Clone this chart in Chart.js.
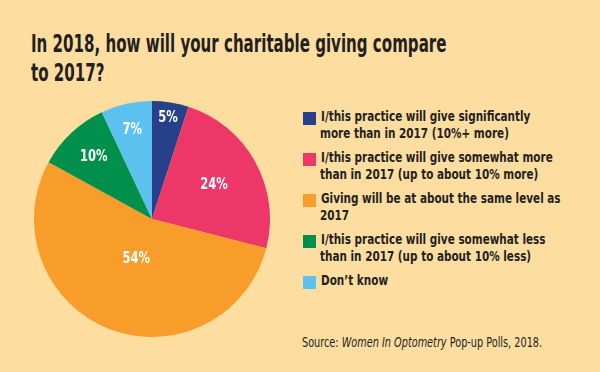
<!DOCTYPE html>
<html>
<head>
<meta charset="utf-8">
<script src="https://cdn.jsdelivr.net/npm/chart.js@4.4.1/dist/chart.umd.min.js"></script>
<style>
  body { margin: 0; background: #fddda0; }
  #wrap { position: relative; width: 600px; height: 372px; background: #fddda0; overflow: hidden;
    font-family: "Liberation Sans Narrow", "DejaVu Sans Condensed", sans-serif; color: #231f20; }
  .sq { position: absolute; width: 13px; height: 13px; }
  .ln { position: absolute; white-space: nowrap; transform-origin: 0 0; }
  #title .ln { font-size: 25px; font-weight: bold; }
  #legend .ln { font-size: 14.5px; font-weight: bold; }
  #source { font-size: 13.5px; }
  #pie { position: absolute; left: 34px; top: 101px; width: 236px; height: 236px; }
</style>
</head>
<body>
<div id="wrap">
  <div id="title"></div>
  <div id="pie"><canvas id="canvas"></canvas></div>
  <div id="legend"></div>
  <div id="source" class="ln" style="left:302px;top:334px">Source: <i>Women In Optometry</i> Pop-up Polls, 2018.</div>
</div>
<script>
// data
var titleLines = ["In 2018, how will your charitable giving compare", "to 2017?"];
var categories = [
  ["I/this practice will give significantly", "more than in 2017 (10%+ more)"],
  ["I/this practice will give somewhat more", "than in 2017 (up to about 10% more)"],
  ["Giving will be at about the same level  as", "2017"],
  ["I/this practice will give somewhat less", "than in 2017 (up to about 10% less)"],
  ["Don\u2019t know"]
];
var shares = [5, 24, 54, 10, 7];
var colors = ["#26408c", "#ee3769", "#f99d2a", "#00904b", "#5cc1ee"];
// where each % label sits, as a fraction of the radius
var labelRadius = [0.87, 0.6, 0.36, 0.72, 0.77];

var squeeze = 0.8; // horizontal condense for the narrow look
var titleSqueeze = 0.67;

// title
var t = document.getElementById("title");
titleLines.forEach(function (s, i) {
  var d = document.createElement("div");
  d.className = "ln";
  d.textContent = s;
  d.style.left = "31px";
  d.style.top = (29 + i * 29) + "px";
  d.style.transform = "scaleX(" + titleSqueeze + ")";
  t.appendChild(d);
});

// legend
var lg = document.getElementById("legend");
var y = 110;
categories.forEach(function (lines, i) {
  var sq = document.createElement("div");
  sq.className = "sq";
  sq.style.left = "303px";
  sq.style.top = (y + 2) + "px";
  sq.style.background = colors[i];
  lg.appendChild(sq);
  lines.forEach(function (s, j) {
    var d = document.createElement("div");
    d.className = "ln";
    d.textContent = s;
    d.style.left = (j == 0 ? 321 : 320) + "px";
    d.style.top = (y - 2 + j * 17) + "px";
    d.style.transform = "scaleX(" + squeeze + ")";
    lg.appendChild(d);
  });
  y += lines.length * 17 + 7;
});
document.getElementById("source").style.transform = "scaleX(" + squeeze + ")";

var sliceLabels = {
  id: "sliceLabels",
  afterDatasetsDraw: function (chart) {
    var ctx = chart.ctx;
    var meta = chart.getDatasetMeta(0);
    ctx.save();
    ctx.fillStyle = "#fff";
    ctx.font = "bold 16px 'Liberation Sans Narrow', 'DejaVu Sans Condensed', sans-serif";
    ctx.textAlign = "center";
    ctx.textBaseline = "middle";
    meta.data.forEach(function (arc, i) {
      var mid = (arc.startAngle + arc.endAngle) / 2;
      var r = arc.outerRadius * labelRadius[i];
      var x = arc.x + Math.cos(mid) * r;
      var yy = arc.y + Math.sin(mid) * r;
      ctx.save();
      ctx.translate(x, yy);
      ctx.scale(squeeze, 1);
      ctx.fillText(shares[i] + "%", 0, 0);
      ctx.restore();
    });
    ctx.restore();
  }
};

var ctx = document.getElementById("canvas").getContext("2d");
var myChart = new Chart(ctx, {
  type: "pie",
  data: {
    labels: categories.map(function (l) { return l.join(" "); }),
    datasets: [
      {
        data: shares,
        backgroundColor: colors,
        borderWidth: 0,
      },
    ],
  },
  options: {
    responsive: true,
    maintainAspectRatio: false,
    animation: false,
    layout: { padding: 0 },
    plugins: {
      legend: { display: false },
      tooltip: { enabled: false },
    },
  },
  plugins: [sliceLabels],
});
</script>
</body>
</html>
